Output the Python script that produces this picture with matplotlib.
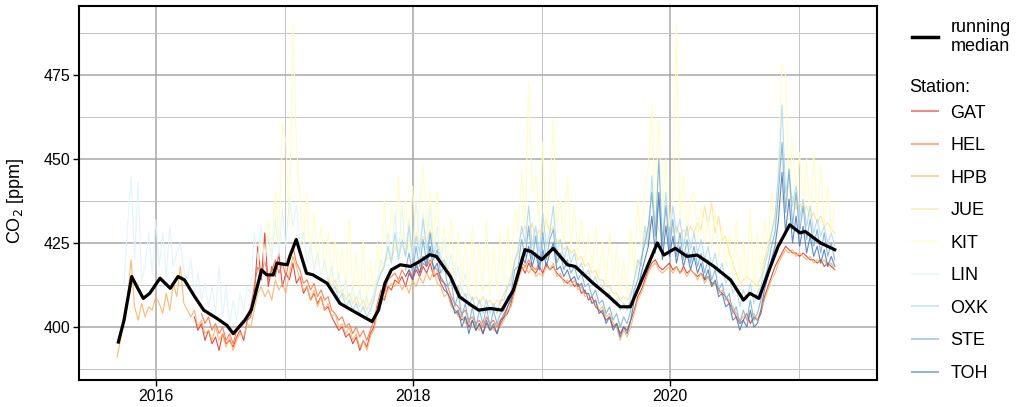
import numpy as np
import pandas as pd
import matplotlib
matplotlib.use("Agg")
from matplotlib import pyplot as plt
from matplotlib.lines import Line2D
import matplotlib.dates as mdates

plt.rcParams["font.family"] = ["Liberation Sans", "DejaVu Sans"]

# Station series, one value every 10 days, first value at grid index *_start
grid_start = pd.Timestamp("2015-09-12")

hpb_start = 0
hpb = [391, 396, 404, 409, 420, 406, 402, 407, 403, 406, 405, 409, 407, 404, 410, 405, 413, 409, 418, 407,
       405, 403, 405, 400, 402, 398, 399, 396, 400, 396, 398, 394, 397, 393, 396, 398, 397, 401, 400, 405,
       410, 412, 409, 411, 408, 414, 411, 413, 410, 416, 421, 418, 414, 411, 412, 408, 411, 406, 409, 405,
       407, 403, 404, 400, 401, 398, 400, 396, 398, 394, 396, 393, 397, 399, 404, 407, 409, 411, 413, 412,
       414, 411, 413, 410, 414, 412, 415, 413, 416, 414, 417, 413, 412, 409, 410, 406, 405, 403, 404, 401,
       402, 400, 401, 399, 402, 400, 401, 399, 401, 400, 402, 405, 406, 410, 414, 417, 418, 416, 418, 415,
       416, 415, 418, 417, 419, 415, 416, 413, 414, 412, 414, 411, 412, 409, 410, 407, 408, 405, 406, 403,
       404, 401, 400, 396, 399, 397, 400, 404, 408, 410, 413, 416, 418, 419, 417, 416, 417, 418, 416, 418,
       416, 417, 415, 417, 416, 414, 416, 413, 415, 412, 413, 410, 411, 409, 408, 406, 404, 402, 403, 404,
       403, 404, 402, 405, 408, 411, 414, 416, 419, 421, 423, 422, 423, 421, 422, 421, 420, 421, 419, 420,
       419, 420, 418, 419, 417]

gat_start = 22
gat = [403, 399, 401, 396, 399, 395, 397, 393, 398, 395, 396, 394, 397, 399, 396, 402, 403, 410,
       424, 414, 428, 412, 418, 415, 422, 412, 416, 414, 419, 413, 415, 410, 412, 408, 410, 407, 409, 405,
       406, 403, 401, 399, 400, 397, 398, 395, 397, 393, 396, 394, 398, 400, 406, 409, 408, 412, 411, 414,
       413, 415, 412, 416, 414, 417, 415, 418, 416, 419, 415, 416, 413, 411, 410, 407, 405, 404, 402, 403,
       400, 402, 399, 401, 398, 401, 399, 400, 398, 401, 403, 404, 407, 411, 414, 418, 416, 419, 417, 416,
       418, 416, 419, 417, 418, 416, 415, 414, 413, 414, 412, 413, 410, 411, 408, 409, 406, 405, 404, 402,
       403, 400, 401, 398, 400, 399, 402, 405, 409, 411, 414, 417, 419, 420, 418, 417, 418, 419, 417, 418,
       416, 418, 416, 417, 416, 415, 416, 414, 415, 413, 413, 411, 410, 409, 407, 405, 403, 401, 402, 404,
       401, 403, 402, 404, 409, 412, 415, 418, 420, 422, 424, 423, 422, 422, 421, 422, 421, 420, 420, 419,
       420, 418, 419, 418, 417]

hel_start = 24
hel = [404, 401, 403, 399, 401, 398, 400, 396, 398, 395, 399, 400, 401, 403, 406, 412,
       418, 415, 420, 414, 417, 420, 416, 419, 415, 420, 424, 419, 417, 413, 414, 411, 413, 409, 411, 408,
       409, 405, 404, 402, 403, 400, 401, 398, 400, 397, 399, 396, 399, 402, 407, 411, 410, 414, 415, 416,
       414, 417, 415, 417, 415, 418, 416, 419, 418, 420, 418, 417, 415, 413, 412, 409, 407, 406, 404, 405,
       402, 403, 401, 402, 400, 403, 401, 402, 400, 402, 404, 406, 409, 413, 416, 419, 418, 420, 418, 417,
       419]

jue_start = 60
jue = [415, 412, 414, 410, 411, 408, 410, 407, 409, 406, 408, 405, 407, 410, 414, 416, 419, 421, 420, 424,
       422, 425, 421, 426, 423, 428, 424, 427, 425, 429, 425, 424, 421, 419, 418, 415, 413, 412, 411, 409,
       410, 408, 409, 407, 409, 407, 408, 406, 408, 407, 410, 412, 415, 419, 424, 428, 430, 427, 431, 426,
       429, 427, 432, 428, 430, 425, 426, 423, 424, 422, 423, 420, 421, 418, 419, 416, 417, 414, 414, 412,
       412, 410, 410, 408, 409, 408, 410, 414, 418, 421, 425, 428, 431, 433, 429, 427, 430, 431, 428, 430,
       427, 429, 427, 430, 428, 431, 429, 436, 430, 437, 428, 433, 426, 427, 422, 419, 416, 413, 414, 415,
       414, 413, 412, 415, 420, 424, 428, 432, 436, 438, 441, 437, 439, 435, 437, 434, 436, 432, 434, 431,
       433, 430, 431, 429, 428]

kit_start = 40
kit = [418, 426, 420, 432, 422, 440, 425, 461, 455, 430, 490, 455, 438, 425, 440, 420, 434, 418, 430, 416,
       428, 414, 426, 412, 424, 410, 432, 409, 422, 407, 426, 406, 420, 410, 425, 416, 438, 420, 436, 423,
       445, 424, 438, 423, 442, 425, 436, 448, 428, 440, 426, 440, 422, 430, 419, 432, 414, 428, 412, 426,
       410, 430, 409, 425, 410, 432, 409, 424, 410, 428, 412, 430, 416, 435, 428, 446, 430, 473, 440, 445,
       430, 455, 428, 440, 462, 430, 438, 425, 445, 423, 436, 421, 432, 419, 428, 417, 430, 415, 426, 413,
       428, 412, 424, 410, 420, 410, 430, 416, 438, 424, 440, 448, 466, 432, 462, 435, 450, 430, 438, 490,
       432, 445, 428, 438, 440, 427, 436, 425, 432, 423, 435, 420, 430, 418, 428, 415, 432, 412, 426, 413,
       435, 412, 428, 416, 432, 424, 440, 430, 450, 478, 475, 440, 455, 436, 452, 435, 450, 432, 452, 433,
       448, 430, 442, 428, 436]

lin_start = 2
lin = [412, 430, 445, 420, 443, 414, 418, 428, 416, 432, 418, 428, 415, 430, 418, 422, 425, 417, 414, 420,
       410, 416, 408, 413, 406, 412, 404, 418, 403, 412, 401, 408, 402, 410, 405, 412, 410, 428, 420, 430,
       419, 427, 420, 432, 421, 435, 424, 438, 430, 436, 424, 428, 419, 425, 417, 422, 415, 420, 414, 418,
       411, 416, 409, 414, 407, 412, 406, 411, 405, 409, 404, 410, 414, 420, 418, 428, 420, 434, 421, 436,
       422, 432, 421, 438, 423, 434, 424, 436, 423, 430, 420, 426, 417, 422, 413, 418, 410, 416, 408]

oxk_start = 60
oxk = [414, 411, 412, 408, 410, 406, 408, 405, 407, 404, 406, 403, 405, 408, 413, 416, 418, 424, 419, 428,
       420, 426, 421, 430, 420, 427, 422, 432, 423, 428, 422, 425, 419, 420, 416, 415, 411, 412, 408, 410,
       406, 409, 405, 408, 404, 408, 404, 407, 404, 408, 408, 412, 413, 420, 422, 430, 425, 436, 424, 430,
       422, 434, 424, 428, 436, 422, 426, 420, 424, 419, 422, 417, 419, 415, 417, 413, 415, 411, 412, 409,
       410, 407, 408, 405, 407, 405, 409, 414, 420, 418, 430, 424, 445, 428, 438, 426, 440, 425, 436, 428,
       432, 424, 430, 423, 428, 422, 426, 420, 424, 418, 422, 416, 419, 413, 415, 410, 412, 406, 411, 408,
       413, 407, 410, 412, 418, 422, 428, 433, 445, 466, 440, 446, 436, 442, 432, 438, 430, 436, 428, 432,
       427, 430, 425, 428, 424]

ste_start = 82
ste = [417, 422, 416, 424, 418, 426, 419, 428, 420, 423, 416, 418, 412, 414, 406, 410, 403, 407, 401, 406,
       400, 405, 401, 406, 400, 405, 401, 404, 405, 409, 410, 417, 418, 426, 421, 430, 420, 427, 418, 428,
       420, 426, 429, 419, 422, 417, 420, 416, 418, 414, 416, 412, 413, 409, 411, 407, 408, 404, 406, 402,
       404, 400, 403, 401, 405, 411, 414, 420, 425, 430, 440, 427, 450, 424, 436, 423, 432, 421, 428, 420,
       426, 419, 424, 418, 422, 416, 420, 414, 417, 411, 413, 408, 410, 404, 406, 401, 405, 402, 408, 402,
       404, 408, 414, 418, 424, 428, 440, 455, 434, 447, 430, 440, 428, 436, 426, 432, 424, 429, 422, 428,
       421, 425, 420]

toh_start = 82
toh = [415, 417, 414, 419, 416, 421, 418, 424, 417, 419, 414, 413, 410, 408, 404, 405, 400, 403, 398, 402,
       399, 401, 398, 402, 399, 401, 398, 402, 403, 406, 408, 413, 416, 421, 419, 424, 418, 422, 417, 423,
       418, 422, 425, 417, 418, 415, 417, 414, 415, 412, 413, 410, 410, 407, 408, 404, 405, 401, 403, 399,
       401, 397, 400, 398, 402, 408, 411, 416, 420, 424, 433, 422, 440, 420, 430, 421, 427, 419, 424, 418,
       422, 417, 421, 416, 419, 414, 417, 412, 414, 409, 410, 406, 407, 402, 403, 399, 402, 400, 405, 400,
       401, 405, 411, 415, 420, 424, 432, 446, 428, 438, 425, 433, 424, 430, 422, 427, 421, 424, 419, 423,
       418, 421, 418]

stations = ["GAT", "HEL", "HPB", "JUE", "KIT", "LIN", "OXK", "STE", "TOH"]
station_series = [(gat_start, gat), (hel_start, hel), (hpb_start, hpb), (jue_start, jue),
                  (kit_start, kit), (lin_start, lin), (oxk_start, oxk), (ste_start, ste),
                  (toh_start, toh)]

# running median, read at decimal years
median_year = [2015.706, 2015.75, 2015.81, 2015.85, 2015.90, 2015.95, 2016.03, 2016.11, 2016.17, 2016.22,
               2016.30, 2016.37, 2016.47, 2016.55, 2016.60, 2016.69, 2016.74, 2016.82, 2016.86, 2016.91,
               2016.94, 2017.02, 2017.04, 2017.09, 2017.17, 2017.22, 2017.33, 2017.43, 2017.59, 2017.68,
               2017.73, 2017.78, 2017.83, 2017.90, 2017.98, 2018.05, 2018.13, 2018.18, 2018.29, 2018.36,
               2018.45, 2018.51, 2018.60, 2018.69, 2018.78, 2018.87, 2018.92, 2019.00, 2019.09, 2019.20,
               2019.26, 2019.40, 2019.51, 2019.61, 2019.69, 2019.79, 2019.90, 2019.95, 2020.04, 2020.13,
               2020.21, 2020.34, 2020.47, 2020.57, 2020.62, 2020.69, 2020.78, 2020.84, 2020.93, 2021.01,
               2021.05, 2021.17, 2021.28]
median_ppm = [395.5, 402.0, 415.0, 412.0, 408.5, 410.0, 414.5, 411.5, 415.0, 414.0,
              409.0, 405.0, 402.6, 400.5, 398.0, 402.0, 405.0, 417.0, 415.5, 415.5,
              419.0, 418.5, 421.0, 426.0, 416.0, 415.5, 413.0, 407.0, 403.5, 401.6,
              405.0, 413.0, 417.0, 418.5, 418.0, 419.5, 421.5, 421.0, 415.0, 409.0,
              406.5, 405.0, 405.5, 405.0, 411.0, 423.0, 422.4, 420.0, 423.4, 418.5,
              418.0, 413.0, 409.5, 406.0, 406.0, 415.0, 425.0, 421.4, 423.4, 421.0,
              421.4, 418.0, 414.0, 408.0, 410.0, 408.5, 418.0, 424.0, 430.4, 428.0,
              428.4, 425.0, 423.0]

colors = ["#d73027", "#f46d43", "#fdae61", "#fee090", "#ffffbf", "#e0f3f8", "#abd9e9", "#74add1", "#4575b4"]


def yr(d):
    return pd.Timestamp("2015-01-01") + pd.to_timedelta((d - 2015.0) * 365.25, unit="D")


fig = plt.figure(figsize=(10.16, 4.07), dpi=100)
ax = fig.add_axes([0.0778, 0.0663, 0.7855, 0.9187])

for name, (start, vals), col in zip(stations, station_series, colors):
    dates = pd.date_range(grid_start + pd.Timedelta(days=10 * start), periods=len(vals), freq="10D")
    ax.plot(dates, vals, color=col, lw=0.8, alpha=0.85)

ax.plot([yr(d) for d in median_year], median_ppm, color="black", lw=2.3, solid_joinstyle="round")

ax.set_xlim(yr(2015.40), yr(2021.61))
ax.set_ylim(384.2, 495.5)
ax.set_yticks([400, 425, 450, 475])
ax.set_yticks([387.5, 412.5, 437.5, 462.5, 487.5], minor=True)
ax.set_xticks([pd.Timestamp("2016-01-01"), pd.Timestamp("2018-01-01"), pd.Timestamp("2020-01-01")])
ax.set_xticks([pd.Timestamp("2017-01-01"), pd.Timestamp("2019-01-01"), pd.Timestamp("2021-01-01")],
              minor=True)
ax.xaxis.set_major_formatter(mdates.DateFormatter("%Y"))
ax.grid(which="major", color="#a8a8a8", lw=1.1)
ax.grid(which="minor", color="#c4c4c4", lw=0.7)
ax.set_axisbelow(True)
ax.tick_params(which="major", length=4, width=1, labelsize=11.5, color="black", pad=2.5)
ax.tick_params(which="minor", length=0)
for s in ax.spines.values():
    s.set_linewidth(1.5)
    s.set_color("black")
ax.set_ylabel("CO$_2$ [ppm]", fontsize=13)
ax.yaxis.set_label_coords(-0.066, 0.48)

# legends on the right
leg1 = fig.legend([Line2D([], [], color="black", lw=2.5)], ["running\nmedian"],
                  loc="center left", bbox_to_anchor=(0.8976, 0.909), frameon=False,
                  fontsize=13, handlelength=1.44, handletextpad=0.7, borderaxespad=0,
                  borderpad=0, labelspacing=0.1)
fig.text(0.8947, 0.784, "Station:", fontsize=13, va="center", ha="left")
handles = [Line2D([], [], color=c, lw=1.5, alpha=0.55) for c in colors]
leg2 = fig.legend(handles, stations, loc="upper left",
                  bbox_to_anchor=(0.8976, 0.743), frameon=False, fontsize=13,
                  handlelength=1.44, handletextpad=0.7,
                  labelspacing=0.86, borderaxespad=0, borderpad=0)

fig.savefig("out.png", dpi=100)
